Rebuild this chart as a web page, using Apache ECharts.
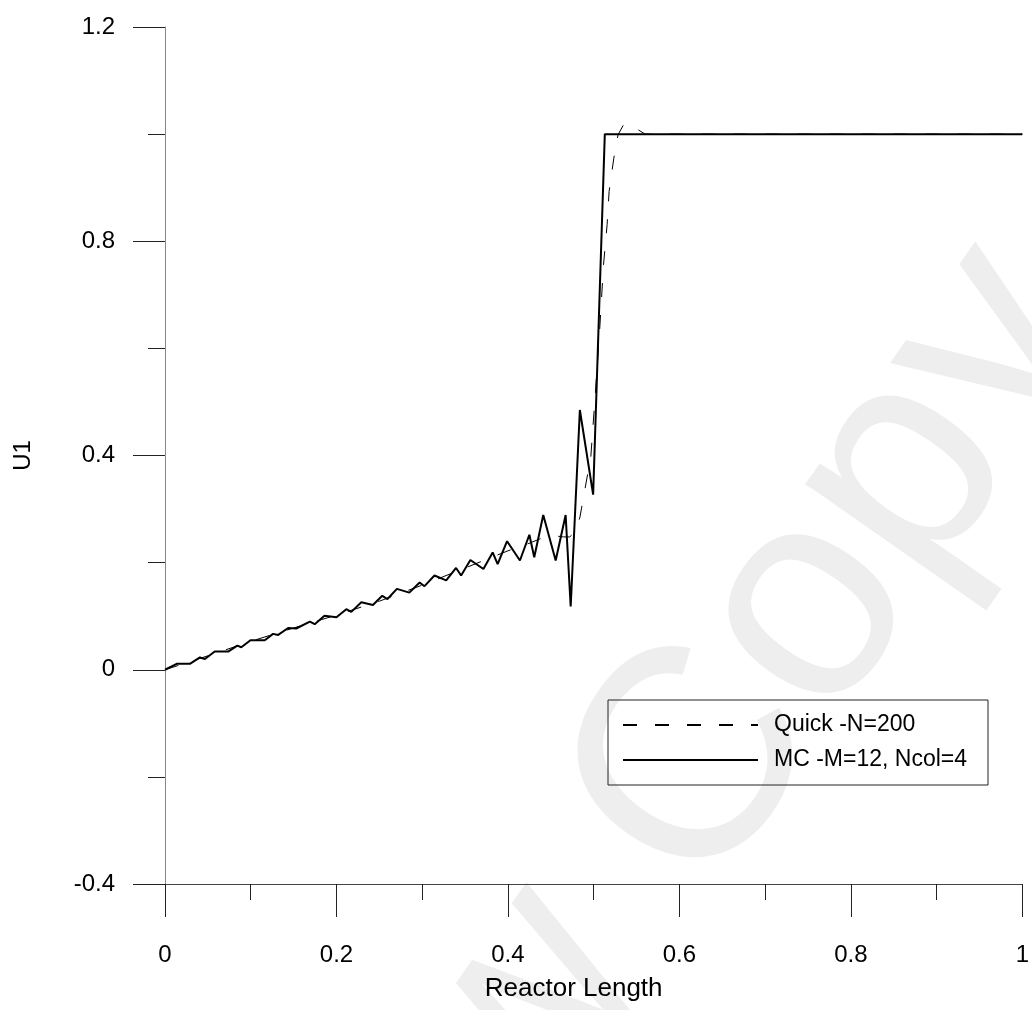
<!DOCTYPE html>
<html>
<head>
<meta charset="utf-8">
<script src="https://cdn.jsdelivr.net/npm/echarts@6/dist/echarts.min.js"></script>
<style>
  html, body { margin: 0; padding: 0; background: #fff; }
  #chart { width: 1032px; height: 1010px; }
</style>
</head>
<body>
<div id="chart"></div>
<script>
// Quick scheme, N=200 (dashed)
const quickX = [0, 0.05, 0.1, 0.15, 0.2, 0.25, 0.3, 0.35, 0.4, 0.42, 0.44, 0.455, 0.465, 0.472, 0.479, 0.484, 0.489, 0.4967, 0.5017, 0.507, 0.5115, 0.5157, 0.518, 0.5235, 0.5285, 0.535, 0.542, 0.55, 0.56, 0.6, 0.8, 1.0];
const quickY = [0, 0.026, 0.053, 0.078, 0.102, 0.128, 0.158, 0.19, 0.222, 0.233, 0.246, 0.25, 0.248, 0.248, 0.258, 0.285, 0.33, 0.398, 0.51, 0.635, 0.756, 0.831, 0.893, 0.955, 0.999, 1.018, 1.02, 1.01, 1.0, 1.0, 1.0, 1.0];

// Orthogonal collocation, M=12, Ncol=4 (solid)
const mcX = [0, 0.0136, 0.029, 0.0407, 0.0466, 0.058, 0.0737, 0.0843, 0.089, 0.0997, 0.1164, 0.126, 0.132, 0.1436, 0.153, 0.169, 0.1746, 0.186, 0.2, 0.2115, 0.2173, 0.229, 0.2425, 0.2534, 0.2595, 0.2705, 0.285, 0.297, 0.3027, 0.3143, 0.328, 0.3395, 0.3454, 0.3562, 0.3714, 0.3822, 0.388, 0.399, 0.414, 0.425, 0.4307, 0.4412, 0.4557, 0.4673, 0.4732, 0.4839, 0.4994, 0.513, 0.6, 0.7, 0.8, 0.9, 1.0];
const mcY = [0, 0.011, 0.011, 0.023, 0.02, 0.034, 0.034, 0.045, 0.042, 0.055, 0.055, 0.067, 0.065, 0.078, 0.077, 0.09, 0.085, 0.101, 0.098, 0.113, 0.108, 0.126, 0.121, 0.138, 0.132, 0.151, 0.144, 0.163, 0.156, 0.176, 0.167, 0.19, 0.176, 0.205, 0.188, 0.219, 0.197, 0.24, 0.204, 0.252, 0.21, 0.289, 0.204, 0.289, 0.118, 0.485, 0.327, 1.0, 1.0, 1.0, 1.0, 1.0, 1.0];

const seriesNames = ['Quick -N=200', 'MC -M=12, Ncol=4'];
const xTitle = 'Reactor Length';
const yTitle = 'U1';

const zip = (xs, ys) => xs.map((x, i) => [x, ys[i]]);
const FONT = 'Arial, "Liberation Sans", sans-serif';
const fmt = v => String(+(+v).toFixed(2));

const chart = echarts.init(document.getElementById('chart'), null, { renderer: 'canvas' });

// faint diagonal background stamp
const stampRot = 55 * Math.PI / 180;
const stampPos = { x: 636, y: 858 };

chart.setOption({
  backgroundColor: '#ffffff',
  animation: false,
  graphic: [
    {
      type: 'text', z: -10, silent: true,
      x: stampPos.x, y: stampPos.y, rotation: stampRot,
      style: { text: 'Copy', fill: '#eeeeee', font: '300px ' + FONT, textAlign: 'left', textVerticalAlign: 'middle' }
    },
    {
      type: 'text', z: -10, silent: true,
      x: stampPos.x, y: stampPos.y, rotation: stampRot,
      style: { text: 'Review ', fill: '#eeeeee', font: '300px ' + FONT, textAlign: 'right', textVerticalAlign: 'middle' }
    }
  ],
  grid: { left: 165, right: 8, top: 27, bottom: 126, containLabel: false },
  legend: {
    orient: 'vertical',
    left: 608, top: 700,
    padding: [12, 21, 12, 14],
    borderColor: '#222', borderWidth: 1,
    backgroundColor: 'rgba(255,255,255,0)',
    itemWidth: 135, itemHeight: 14, itemGap: 9,
    itemStyle: { opacity: 0 },
    textStyle: { fontFamily: FONT, fontSize: 23, color: '#000', lineHeight: 26, padding: [0, 0, 0, 11] },
    data: seriesNames
  },
  xAxis: {
    type: 'value', min: 0, max: 1, interval: 0.2,
    name: xTitle, nameLocation: 'middle', nameGap: 92,
    nameTextStyle: { fontFamily: FONT, fontSize: 26, color: '#000', padding: [0, 40, 0, 0] },
    axisLine: { show: true, onZero: false, lineStyle: { color: '#444', width: 1 } },
    axisTick: { show: true, length: 33, lineStyle: { color: '#222', width: 1 } },
    minorTick: { show: true, splitNumber: 2, length: 16, lineStyle: { color: '#222', width: 1 } },
    axisLabel: { fontFamily: FONT, fontSize: 24, color: '#000', margin: 59, formatter: fmt },
    splitLine: { show: false }
  },
  yAxis: {
    type: 'value', min: -0.4, max: 1.2, interval: 0.4,
    name: yTitle, nameLocation: 'middle', nameGap: 130, nameRotate: 90,
    nameTextStyle: { fontFamily: FONT, fontSize: 24, color: '#000' },
    axisLine: { show: true, onZero: false, lineStyle: { color: '#888', width: 1 } },
    axisTick: { show: true, length: 32, lineStyle: { color: '#222', width: 1 } },
    minorTick: { show: true, splitNumber: 2, length: 17, lineStyle: { color: '#222', width: 1 } },
    axisLabel: { fontFamily: FONT, fontSize: 24, color: '#000', margin: 50, formatter: fmt },
    splitLine: { show: false }
  },
  series: [
    {
      name: seriesNames[0], type: 'line', data: zip(quickX, quickY),
      showSymbol: false, symbol: 'none', smooth: false,
      lineStyle: { color: '#000', width: 1, type: [14, 18] },
      itemStyle: { color: '#000' }, z: 3
    },
    {
      name: seriesNames[1], type: 'line', data: zip(mcX, mcY),
      showSymbol: false, symbol: 'none', smooth: false,
      lineStyle: { color: '#000', width: 2 },
      itemStyle: { color: '#000' }, z: 2
    }
  ]
});
</script>
</body>
</html>
